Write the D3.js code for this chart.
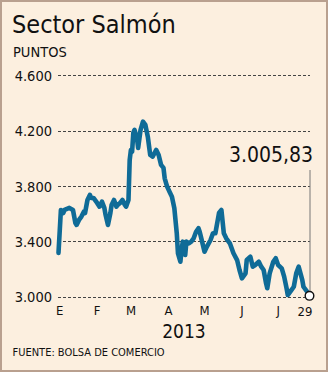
<!DOCTYPE html>
<html>
<head>
<meta charset="utf-8">
<script src="https://cdn.jsdelivr.net/npm/d3@7"></script>
<style>
html,body{margin:0;padding:0;background:#fcefdf;}
svg{display:block;}
text{font-family:"DejaVu Sans Condensed","DejaVu Sans",sans-serif;font-stretch:condensed;fill:#111;}
</style>
</head>
<body>
<svg id="chart" width="328" height="372"></svg>
<script>
const title = "Sector Salmón";
const unitLabel = "PUNTOS";
const source = "FUENTE: BOLSA DE COMERCIO";
const yearLabel = "2013";
const lastLabel = "3.005,83";
const yTicks = [3000, 3400, 3800, 4200, 4600];
const yTickLabels = ["3.000", "3.400", "3.800", "4.200", "4.600"];
const monthStarts = ["2013-01-01","2013-02-01","2013-03-01","2013-04-01","2013-05-01","2013-06-01","2013-07-01"];
const monthLabels = ["E","F","M","A","M","J","J"];
const endLabel = "29";

const dates = [
"2013-01-02","2013-01-04","2013-01-06","2013-01-07","2013-01-11","2013-01-14","2013-01-16","2013-01-17","2013-01-19","2013-01-21",
"2013-01-23","2013-01-24","2013-01-26","2013-01-28","2013-01-29","2013-01-31","2013-02-03","2013-02-05","2013-02-07","2013-02-09",
"2013-02-10","2013-02-12","2013-02-14","2013-02-15","2013-02-17","2013-02-19","2013-02-20","2013-02-22","2013-02-24","2013-02-26",
"2013-02-27","2013-03-01","2013-03-02","2013-03-03","2013-03-04","2013-03-05","2013-03-06","2013-03-08","2013-03-09","2013-03-11",
"2013-03-13","2013-03-15","2013-03-17","2013-03-19","2013-03-21","2013-03-24","2013-03-26","2013-03-28","2013-03-30","2013-03-31",
"2013-04-02","2013-04-04","2013-04-06","2013-04-08","2013-04-10","2013-04-11","2013-04-13","2013-04-14","2013-04-15","2013-04-17",
"2013-04-18","2013-04-20","2013-04-22","2013-04-24","2013-04-26","2013-04-28","2013-04-29","2013-05-01","2013-05-03","2013-05-05",
"2013-05-08","2013-05-10","2013-05-12","2013-05-14","2013-05-15","2013-05-17","2013-05-19","2013-05-21","2013-05-24","2013-05-27",
"2013-05-30","2013-06-01","2013-06-03","2013-06-06","2013-06-07","2013-06-10","2013-06-12","2013-06-14","2013-06-17","2013-06-19",
"2013-06-21","2013-06-23","2013-06-24","2013-06-26","2013-06-29","2013-07-01","2013-07-03","2013-07-06","2013-07-08","2013-07-10",
"2013-07-11","2013-07-14","2013-07-16","2013-07-18","2013-07-20","2013-07-23","2013-07-24","2013-07-27","2013-07-29"
];
const values = [
3316,3627,3605,3627,3642,3627,3533,3519,3555,3579,
3615,3605,3699,3736,3714,3714,3678,3651,3687,3642,
3592,3519,3605,3663,3699,3651,3663,3678,3699,3663,
3651,3699,3989,4061,4049,4184,4206,4148,4076,4206,
4266,4242,4157,4025,4013,4061,4025,3953,3931,3856,
3796,3759,3723,3639,3459,3314,3253,3338,3398,3302,
3398,3386,3398,3422,3470,3495,3470,3398,3325,3362,
3410,3459,3459,3555,3605,3627,3459,3422,3386,3314,
3265,3193,3133,3169,3265,3289,3217,3229,3253,3217,
3193,3097,3061,3169,3253,3278,3229,3205,3145,3061,
3012,3048,3072,3169,3217,3121,3072,3036,3006
];

const parse = d3.timeParse("%Y-%m-%d");
const data = dates.map((d, i) => ({date: parse(d), value: values[i]}));

const svg = d3.select("#chart");
const W = 328, H = 372;

// frame
svg.append("rect").attr("x", 1).attr("y", 1).attr("width", W - 2).attr("height", H - 2)
  .attr("fill", "#fcefdf").attr("stroke", "#b9a08f").attr("stroke-width", 2);

const x = d3.scaleTime()
  .domain([parse("2013-01-02"), parse("2013-07-29")])
  .range([58.5, 309.5]);
const y = d3.scaleLinear().domain([3000, 4600]).range([296.7, 75.4]);

// title texts
svg.append("text").attr("x", 12).attr("y", 33).attr("font-size", 25).text(title);
svg.append("text").attr("x", 13).attr("y", 57).attr("font-size", 14.5).text(unitLabel);

// gridlines
const yAxis = d3.axisLeft(y).tickValues(yTicks)
  .tickSize(0).tickPadding(0)
  .tickFormat((d, i) => yTickLabels[i]);
const gy = svg.append("g");
gy.selectAll("line.grid").data(yTicks).join("line")
  .attr("x1", 58).attr("x2", 310)
  .attr("y1", d => Math.round(y(d)) + 0.5).attr("y2", d => Math.round(y(d)) + 0.5)
  .attr("stroke", "#444").attr("stroke-width", 1).attr("stroke-dasharray", "3,2");
const ga = svg.append("g").attr("transform", "translate(52,0)").call(yAxis);
ga.select(".domain").remove();
ga.selectAll("text").attr("font-size", 14.5).attr("fill", "#111")
  .attr("font-family", '"DejaVu Sans Condensed","DejaVu Sans",sans-serif')
  .attr("dy", "0.36em");

// x labels
const xAxis = d3.axisBottom(x).tickValues(monthStarts.map(parse))
  .tickSize(0).tickPadding(0).tickFormat((d, i) => monthLabels[i]);
const gx = svg.append("g").attr("transform", "translate(2,306)").call(xAxis);
gx.select(".domain").remove();
gx.selectAll("text").attr("font-size", 13).attr("fill", "#111")
  .attr("font-family", '"DejaVu Sans Condensed","DejaVu Sans",sans-serif');
svg.append("text").attr("x", x(parse("2013-07-29")) + 3).attr("y", 316)
  .attr("text-anchor", "end").attr("font-size", 13).text(endLabel);

svg.append("text").attr("x", 184).attr("y", 338).attr("text-anchor", "middle")
  .attr("font-size", 19).text(yearLabel);
svg.append("text").attr("x", 12.5).attr("y", 356).attr("font-size", 11).text(source);

// line
const line = d3.line().x(d => x(d.date)).y(d => y(d.value)).curve(d3.curveLinear);
svg.append("path").datum(data).attr("d", line)
  .attr("fill", "none").attr("stroke", "#0f6b97").attr("stroke-width", 4.6)
  .attr("stroke-linejoin", "round").attr("stroke-linecap", "round");

// last value marker
const last = data[data.length - 1];
svg.append("line").attr("x1", x(last.date) + 0.5).attr("x2", x(last.date) + 0.5)
  .attr("y1", 170).attr("y2", y(last.value) - 4)
  .attr("stroke", "#777").attr("stroke-width", 1);
svg.append("circle").attr("cx", x(last.date)).attr("cy", y(last.value)).attr("r", 4.3)
  .attr("fill", "#fff").attr("stroke", "#111").attr("stroke-width", 1.4);
svg.append("text").attr("x", 313).attr("y", 162).attr("text-anchor", "end")
  .attr("font-size", 21).text(lastLabel);
</script>
</body>
</html>
